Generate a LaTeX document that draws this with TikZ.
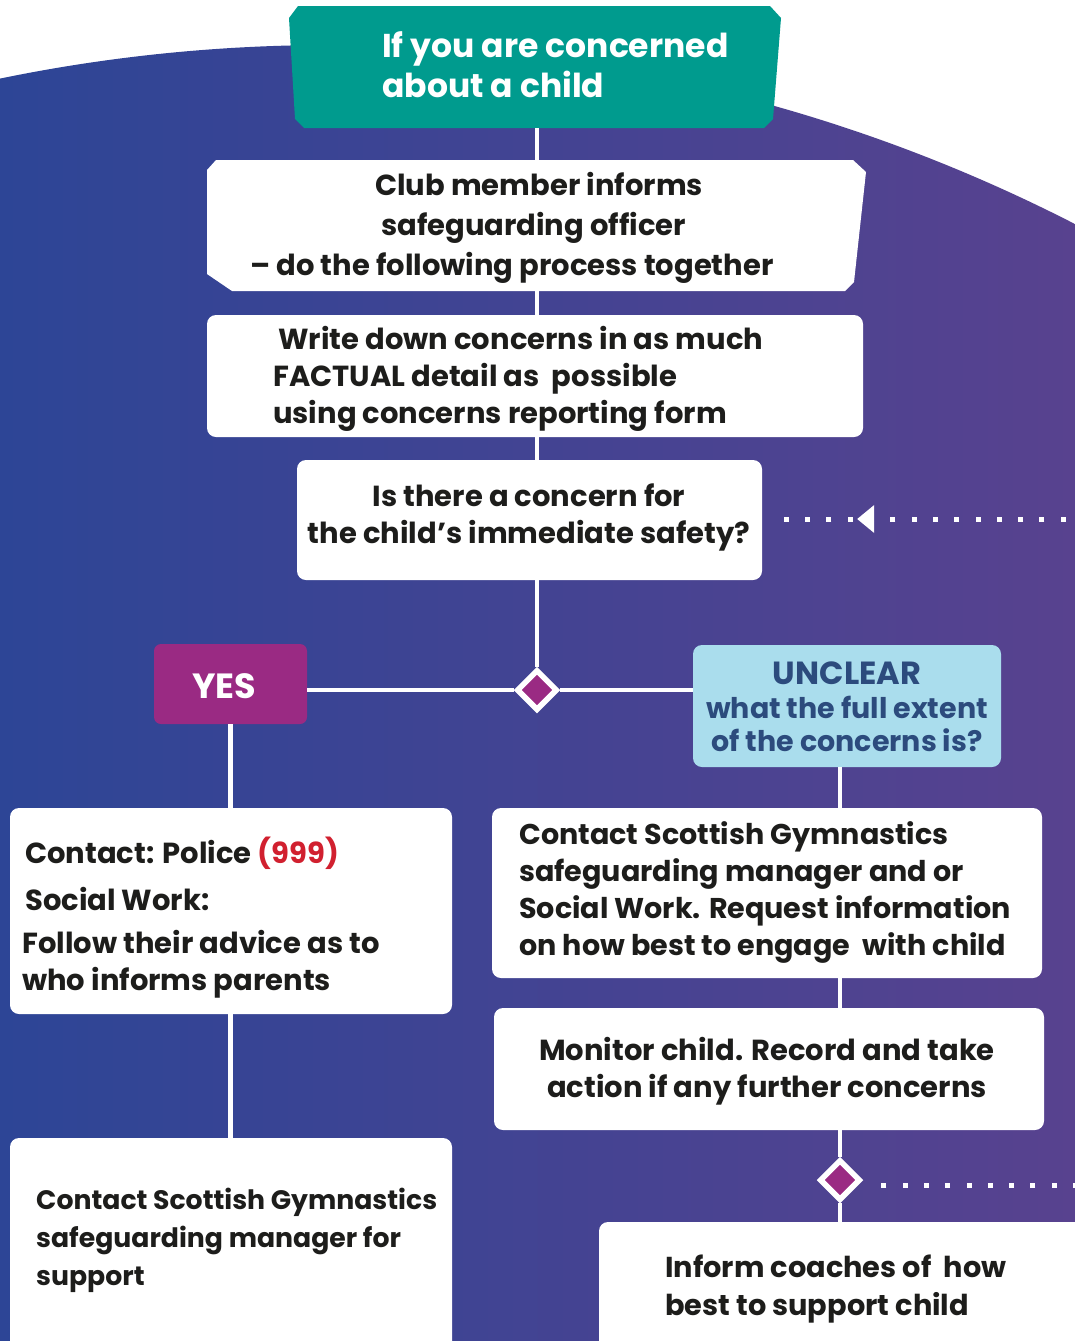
\documentclass[tikz,border=0pt]{standalone}
\usepackage{fontspec}
\setmainfont{Poppins}
\usetikzlibrary{shapes.geometric}
\definecolor{bgL}{HTML}{2D4596}
\definecolor{bgR}{HTML}{58428F}
\definecolor{teal}{HTML}{009B8E}
\definecolor{dpurple}{HTML}{9A2A83}
\definecolor{lblue}{HTML}{AADDED}
\definecolor{ublue}{HTML}{2C4B7D}
\definecolor{ink}{HTML}{1D1D1B}
\definecolor{alarm}{HTML}{D1202F}
\begin{document}
\begin{tikzpicture}[x=1pt,y=-1pt,
  wbox/.style={fill=white, rounded corners=9pt, inner sep=0pt},
  conn/.style={draw=white, line width=4.5pt},
  dotline/.style={draw=white, line width=5pt, dash pattern=on 5pt off 16.3pt},
  decision/.style={diamond, fill=dpurple, draw=white, line width=5.5pt,
    minimum width=41pt, minimum height=41pt, inner sep=0pt},
  txt/.style={font=\bfseries, text=ink, inner sep=0pt},
]
\useasboundingbox (0,0) rectangle (1075,1341);
\fill[white] (0,0) rectangle (1075,1341);
% background
\begin{scope}
  \clip (331,1677) circle (1632);
  \shade[left color=bgL, right color=bgR] (0,0) rectangle (1075,1341);
\end{scope}

% teal header
\fill[teal] (298,6) -- (770,6) -- (781,18) -- (773,119) -- (764,128) -- (304,128)
  -- (295,119) -- (289,18) -- cycle;
\node[inner sep=0pt, minimum width=490pt, minimum height=122pt] (head) at (535,67) {};
\node[txt, text=white, anchor=west, align=left, font=\bfseries\fontsize{33}{40}\selectfont]
  (headt) at (382,65) {If you are concerned\\about a child};

% club member box
\fill[white] (216,160) -- (853,160) -- (866,172) -- (854,282) -- (845,291) -- (232,291)
  -- (207,274) -- (207,170) -- cycle;
\node[inner sep=0pt, minimum width=658pt, minimum height=131pt] (club) at (536,225.5) {};
\node[txt, anchor=west, align=left, font=\bfseries\fontsize{29}{40}\selectfont]
  (clubt) at (250,228) {\hspace*{125pt}Club member informs\\\hspace*{131pt}safeguarding officer\\– do the following process together};

% write down box
\node[wbox, minimum width=656pt, minimum height=122pt] (write) at (535,376) {};
\node[txt, anchor=west, align=left, font=\bfseries\fontsize{29}{37}\selectfont]
  (writet) at (273,379) {\hspace*{5pt}Write down concerns in as much\\FACTUAL detail as~~possible\\using concerns reporting form};

% question box
\node[wbox, minimum width=465pt, minimum height=120pt] (ask) at (529.5,520) {};
\node[txt, align=center, font=\bfseries\fontsize{29}{37}\selectfont]
  (askt) at (529,517) {Is there a concern for\\the child’s immediate safety?};

% decision diamonds
\node[decision] (d1) at (537,690) {};
\node[decision] (d2) at (840,1180) {};

% YES and UNCLEAR
\node[fill=dpurple, rounded corners=7pt, minimum width=153pt, minimum height=80pt,
  inner sep=0pt] (yes) at (230.5,684) {};
\node[txt, text=white, font=\bfseries\fontsize{35}{40}\selectfont] (yest) at (224,686) {YES};
\node[fill=lblue, rounded corners=9pt, minimum width=308pt, minimum height=122pt, inner sep=0pt] (unc) at (847,706) {};
\node[txt, text=ublue, align=center, font=\bfseries\fontsize{28.5}{33.5}\selectfont]
  (unct) at (847,707) {{\fontsize{32}{33.5}\selectfont UNCLEAR}\\what the full extent\\of the concerns is?};

% left branch boxes
\node[wbox, minimum width=442pt, minimum height=206pt] (police) at (231,911) {};
\node[txt, anchor=west, align=left, font=\bfseries\fontsize{29}{37}\selectfont]
  (policet) at (22,918) {\hspace*{3pt}Contact: Police \textcolor{alarm}{(999)}\\[10pt]\hspace*{3pt}Social Work:\\[6pt]Follow their advice as to\\who informs parents};
\node[wbox, minimum width=442pt, minimum height=230pt] (sgsup) at (231,1253) {};
\node[txt, anchor=west, align=left, font=\bfseries\fontsize{26.7}{38}\selectfont]
  (sgsupt) at (36,1240) {Contact Scottish Gymnastics\\safeguarding manager for\\support};

% right branch boxes
\node[wbox, minimum width=550pt, minimum height=170pt] (sgsw) at (767,893) {};
\node[txt, anchor=west, align=left, font=\bfseries\fontsize{28.6}{37}\selectfont]
  (sgswt) at (519,892) {Contact Scottish Gymnastics\\safeguarding manager and or\\Social Work. Request information\\on how best to engage~~with child};
\node[wbox, minimum width=550pt, minimum height=122pt] (mon) at (769,1069) {};
\node[txt, align=center, font=\bfseries\fontsize{29}{37}\selectfont]
  (mont) at (767,1071) {Monitor child. Record and take\\action if any further concerns};
\node[wbox, minimum width=491pt, minimum height=140pt] (coach) at (844.5,1292) {};
\node[txt, anchor=west, align=left, font=\bfseries\fontsize{28.8}{38}\selectfont]
  (coacht) at (665,1289) {Inform coaches of~~how\\best to support child};

% connectors
\draw[conn] (head.south -| d1) -- (club.north -| d1);
\draw[conn] (club.south -| d1) -- (write.north -| d1);
\draw[conn] (write.south -| d1) -- (ask.north -| d1);
\draw[conn] (ask.south -| d1) -- (d1.north);
\draw[conn] (d1.west) -- (d1.west -| yes.east);
\draw[conn] (d1.east) -- (d1.east -| unc.west);
\draw[conn] (yes.south) -- (yes.south |- police.north);
\draw[conn] (police.south -| yes) -- (sgsup.north -| yes);
\draw[conn] (unc.south -| d2) -- (sgsw.north -| d2);
\draw[conn] (sgsw.south -| d2) -- (mon.north -| d2);
\draw[conn] (mon.south -| d2) -- (d2.north);
\draw[conn] (d2.south) -- (coach.north -| d2);

% dotted loops
\coordinate (loopA) at (1075,519);
\coordinate (loopB) at (1075,1185);
\draw[dotline, dash phase=12pt] (loopA) -- ([xshift=17pt]ask.east |- loopA);
\fill[white] ([xshift=95pt]ask.east |- loopA) -- ++(17,-14) -- ++(0,28) -- cycle;
\draw[dotline, dash phase=3pt] (loopB) -- ([xshift=6pt]d2.east |- loopB);
\end{tikzpicture}
\end{document}
